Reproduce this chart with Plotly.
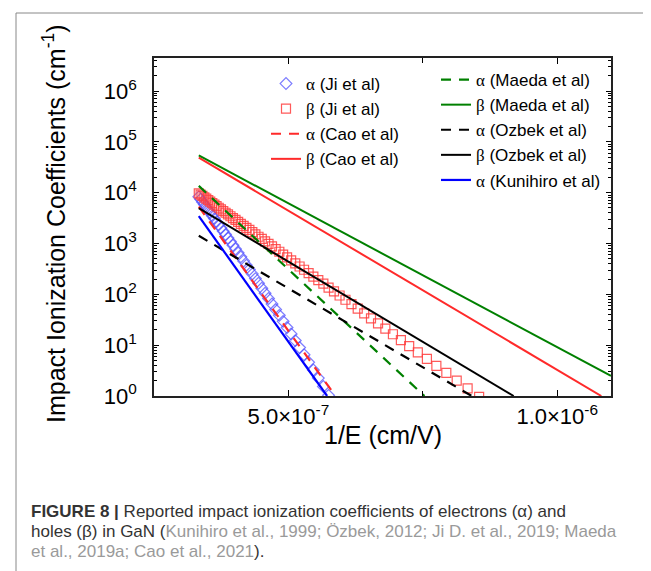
import plotly.graph_objects as go

# ---------------- data ----------------
# Ji et al: sampled points, 1/E in cm/V
ji_inv_field = [3.333e-7, 3.367e-7, 3.401e-7, 3.436e-7, 3.472e-7, 3.509e-7, 3.546e-7, 3.584e-7,
                3.623e-7, 3.663e-7, 3.704e-7, 3.745e-7, 3.788e-7, 3.831e-7, 3.876e-7, 3.922e-7,
                3.968e-7, 4.016e-7, 4.065e-7, 4.115e-7, 4.167e-7, 4.219e-7, 4.274e-7, 4.329e-7,
                4.386e-7, 4.444e-7, 4.505e-7, 4.566e-7, 4.630e-7, 4.695e-7, 4.762e-7, 4.831e-7,
                4.902e-7, 4.975e-7, 5.051e-7, 5.128e-7, 5.208e-7, 5.291e-7, 5.376e-7, 5.464e-7,
                5.556e-7, 5.650e-7, 5.747e-7, 5.848e-7, 5.952e-7, 6.061e-7, 6.173e-7, 6.289e-7,
                6.410e-7, 6.536e-7, 6.667e-7, 6.803e-7, 6.944e-7, 7.092e-7, 7.246e-7, 7.407e-7,
                7.576e-7, 7.752e-7, 7.937e-7, 8.130e-7, 8.333e-7, 8.547e-7]
ji_alpha = [8280, 7390, 6580, 5850, 5180, 4570, 4030, 3530, 3090, 2690, 2340, 2020, 1740,
            1500, 1280, 1090, 924, 780, 655, 547, 454, 375, 308, 252, 204, 165, 132, 105,
            82.7, 64.7, 50.2, 38.6, 29.4, 22.2, 16.6, 12.3, 8.97, 6.47, 4.62, 3.25, 2.25,
            1.54, 1.03]
ji_beta = [9730, 9170, 8620, 8110, 7610, 7130, 6680, 6240, 5830, 5430, 5050, 4690, 4350,
           4030, 3730, 3440, 3170, 2910, 2670, 2440, 2230, 2030, 1850, 1670, 1510, 1360,
           1230, 1100, 983, 876, 778, 689, 607, 533, 467, 407, 353, 305, 262, 224, 191,
           162, 136, 114, 94.8, 78.2, 64.2, 52.2, 42.2, 33.8, 26.8, 21.1, 16.4, 12.6,
           9.61, 7.23, 5.37, 3.93, 2.84, 2.01, 1.41, 0.964]

# model curves (straight lines on this plot): end points
cao_alpha_x = [3.333e-7, 5.875e-7]
cao_alpha_y = [5.3e3, 1.0]
cao_beta_x = [3.333e-7, 1.082e-6]
cao_beta_y = [4.9e4, 1.0]
maeda_alpha_x = [3.333e-7, 7.53e-7]
maeda_alpha_y = [1.36e4, 1.0]
maeda_beta_x = [3.333e-7, 1.100e-6]
maeda_beta_y = [5.4e4, 2.49]
ozbek_alpha_x = [3.333e-7, 8.41e-7]
ozbek_alpha_y = [1.42e3, 1.0]
ozbek_beta_x = [3.333e-7, 9.19e-7]
ozbek_beta_y = [4.95e3, 1.0]
kunihiro_alpha_x = [3.333e-7, 5.72e-7]
kunihiro_alpha_y = [3.45e3, 1.0]

x_tickvals = [5e-7, 1e-6]
x_ticktext = ["5.0×10<sup>-7</sup>", "1.0×10<sup>-6</sup>"]
y_tickvals = [1, 10, 100, 1e3, 1e4, 1e5, 1e6]
y_ticktext = ["10<sup>%d</sup>" % i for i in range(7)]

GREEN = "#008000"
RED = "#ff2a2a"
BLUE = "#0000ff"
A = '<span style="font-family:Liberation Serif">α</span>'
B = '<span style="font-family:Liberation Serif">β</span>'

fig = go.Figure()

fig.add_trace(go.Scatter(x=ji_inv_field[:len(ji_alpha)], y=ji_alpha, mode="markers",
                         name=A + " (Ji et al)", legend="legend",
                         marker=dict(symbol="diamond-open", size=9, color="rgba(80,80,255,0.75)",
                                     line=dict(width=1.2))))
fig.add_trace(go.Scatter(x=ji_inv_field, y=ji_beta, mode="markers",
                         name=B + " (Ji et al)", legend="legend",
                         marker=dict(symbol="square-open", size=9, color="rgba(255,60,60,0.85)",
                                     line=dict(width=1.2))))
fig.add_trace(go.Scatter(x=cao_alpha_x, y=cao_alpha_y, mode="lines", name=A + " (Cao et al)",
                         legend="legend", line=dict(color=RED, width=2.2, dash="10px,8px")))
fig.add_trace(go.Scatter(x=cao_beta_x, y=cao_beta_y, mode="lines", name=B + " (Cao et al)",
                         legend="legend", line=dict(color=RED, width=2)))

fig.add_trace(go.Scatter(x=maeda_alpha_x, y=maeda_alpha_y, mode="lines", name=A + " (Maeda et al)",
                         legend="legend2", line=dict(color=GREEN, width=2.2, dash="10px,8px")))
fig.add_trace(go.Scatter(x=maeda_beta_x, y=maeda_beta_y, mode="lines", name=B + " (Maeda et al)",
                         legend="legend2", line=dict(color=GREEN, width=2)))
fig.add_trace(go.Scatter(x=ozbek_alpha_x, y=ozbek_alpha_y, mode="lines", name=A + " (Ozbek et al)",
                         legend="legend2", line=dict(color="black", width=2.2, dash="10px,8px")))
fig.add_trace(go.Scatter(x=ozbek_beta_x, y=ozbek_beta_y, mode="lines", name=B + " (Ozbek et al)",
                         legend="legend2", line=dict(color="black", width=2)))
fig.add_trace(go.Scatter(x=kunihiro_alpha_x, y=kunihiro_alpha_y, mode="lines",
                         name=A + " (Kunihiro et al)", legend="legend2",
                         line=dict(color=BLUE, width=2.2)))

W, H = 651, 571
L, R, T, Bm = 146, 48, 50, 183
pw, ph = W - L - R, H - T - Bm


def px(xp):
    return (xp - L) / pw


def py(yp):
    return (H - Bm - yp) / ph


axis_font = dict(family="Liberation Sans, Arial, sans-serif", size=22, color="black")
leg_font = dict(family="Liberation Sans, Arial", size=17, color="black")

fig.update_layout(
    width=W, height=H,
    margin=dict(l=L, r=R, t=T, b=Bm),
    paper_bgcolor="white", plot_bgcolor="white",
    showlegend=True,
    legend=dict(x=px(258), y=py(58), xanchor="left", yanchor="top",
                bgcolor="rgba(0,0,0,0)", font=leg_font, tracegroupgap=0),
    legend2=dict(x=px(428), y=py(54), xanchor="left", yanchor="top",
                 bgcolor="rgba(0,0,0,0)", font=leg_font, tracegroupgap=0),
    xaxis=dict(range=[2.5e-7, 1.1e-6], tickvals=x_tickvals, ticktext=x_ticktext,
               ticks="inside", ticklen=6, tickwidth=1, tickcolor="black",
               showline=True, linecolor="#222", linewidth=1.5, mirror="allticks",
               showgrid=False, zeroline=False, tickfont=axis_font, ticklabelstandoff=0,
               minor=dict(tickvals=[2.5e-7, 7.5e-7], ticks="inside", ticklen=5,
                          tickcolor="black", showgrid=False)),
    yaxis=dict(type="log", range=[0, 6.65], tickvals=y_tickvals, ticktext=y_ticktext,
               ticks="inside", ticklen=5, tickwidth=1, tickcolor="black",
               showline=True, linecolor="#222", linewidth=1.5, mirror="allticks",
               showgrid=False, zeroline=False, tickfont=axis_font, ticklabelstandoff=11,
               minor=dict(ticks="inside", ticklen=3, dtick="D1", tickcolor="black",
                          showgrid=False)),
)

# axis titles
fig.add_annotation(x=px(375), y=py(443), xref="paper", yref="paper", showarrow=False,
                   text="1/E (cm/V)", font=dict(family="Liberation Sans, Arial", size=25,
                                                color="black"))
fig.add_annotation(x=px(28), y=py(216), xref="paper", yref="paper", showarrow=False,
                   textangle=-90,
                   text="Impact Ionization Coefficients (cm<sup>-1</sup>)",
                   font=dict(family="Liberation Sans, Arial", size=25, color="black"))

# caption
cap_font = dict(family="Liberation Sans, Arial", size=17, color="#333333")
gray = '<span style="color:#9a9a9a">%s</span>'
cap_lines = [
    "<b>FIGURE 8 |</b> Reported impact ionization coefficients of electrons (α) and",
    "holes (β) in GaN (" + gray % "Kunihiro et al., 1999; Özbek, 2012; Ji D. et al., 2019; Maeda",
    gray % "et al., 2019a; Cao et al., 2021" + ").",
]
for i, t in enumerate(cap_lines):
    fig.add_annotation(x=px(21), y=py(503 + 20 * i), xref="paper", yref="paper",
                       xanchor="left", yanchor="middle", showarrow=False, text=t,
                       font=cap_font, align="left")

# card frame (top and left border)
fig.add_shape(type="line", xref="paper", yref="paper", x0=px(8), x1=px(651), y0=py(5), y1=py(5),
              line=dict(color="#888888", width=1))
fig.add_shape(type="line", xref="paper", yref="paper", x0=px(8), x1=px(8), y0=py(5), y1=py(571),
              line=dict(color="#888888", width=1))

fig.write_html("out.html")
